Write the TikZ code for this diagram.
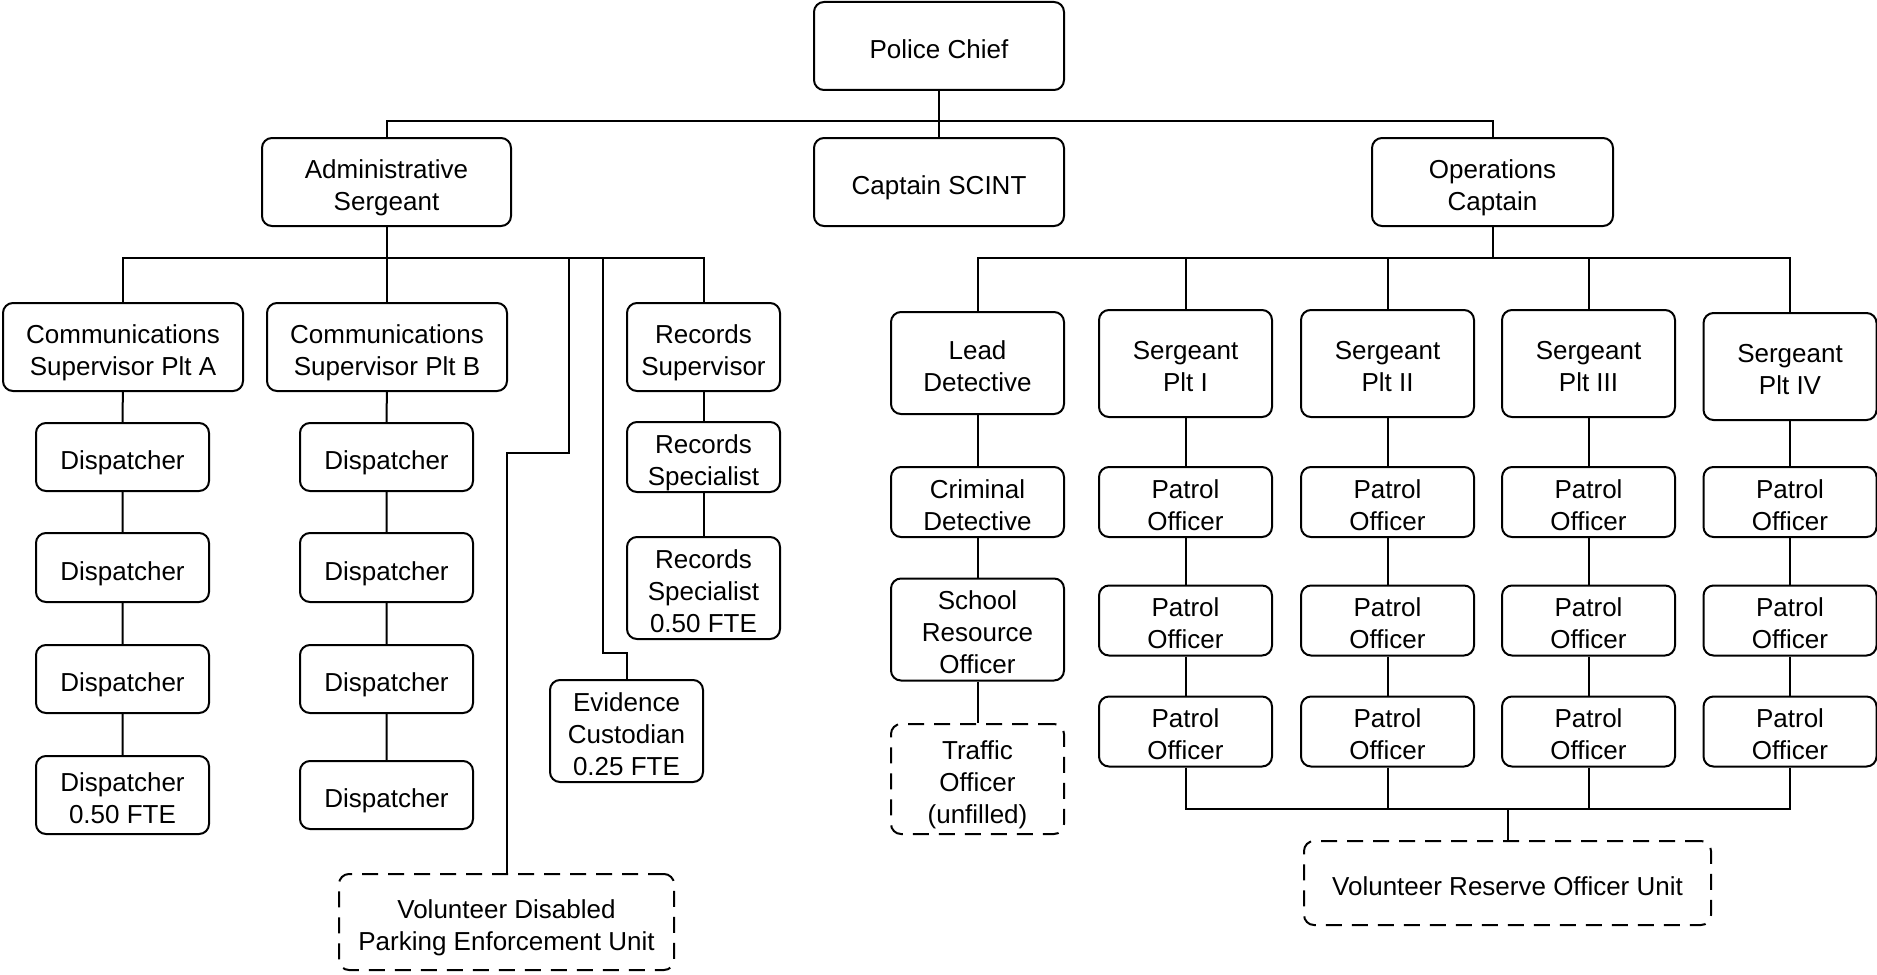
\documentclass[tikz,border=0pt]{standalone}
\usepackage{fontspec}
\setmainfont{Liberation Sans}
\begin{document}
\begin{tikzpicture}[x=0.5pt,y=-0.5pt,
  box/.style={draw, rounded corners=5pt, line width=1pt, align=center, inner sep=0pt,
    font=\fontsize{13}{16}\selectfont,
    execute at begin node={\rule{0pt}{16pt}},
    execute at end node={\rule[-3.5pt]{0pt}{3.5pt}}},
  l2/.style={execute at begin node={\rule{0pt}{31.5pt}}},
  l3/.style={execute at begin node={\rule{0pt}{47.5pt}}},
  dbox/.style={box, dash pattern=on 8pt off 5pt},
  conn/.style={line width=1pt}]
\useasboundingbox (0,0) rectangle (1877,974);
% top level
\node[box, minimum width=125pt, minimum height=44pt] (chief) at (939,46) {Police Chief};
\node[box, l2, minimum width=124.5pt, minimum height=44pt] (admin) at (386.5,182) {Administrative\\Sergeant};
\node[box, minimum width=125pt, minimum height=44pt] (scint) at (939,182) {Captain SCINT};
\node[box, l2, minimum width=120.5pt, minimum height=44pt] (ops) at (1492.5,182) {Operations\\Captain};
% admin branch
\node[box, l2, minimum width=120pt, minimum height=44pt] (commA) at (123,347) {Communications\\Supervisor Plt A};
\node[box, l2, minimum width=120pt, minimum height=44pt] (commB) at (387,347) {Communications\\Supervisor Plt B};
\node[box, l2, minimum width=76.5pt, minimum height=44pt] (recsup) at (703.5,347) {Records\\Supervisor};
\node[box, minimum width=86.5pt, minimum height=34pt] (dA1) at (122.5,457) {Dispatcher};
\node[box, minimum width=86.5pt, minimum height=34.5pt] (dA2) at (122.5,567.5) {Dispatcher};
\node[box, minimum width=86.5pt, minimum height=34pt] (dA3) at (122.5,679) {Dispatcher};
\node[box, l2, minimum width=86.5pt, minimum height=39pt] (dA4) at (122.5,795) {Dispatcher\\0.50 FTE};
\node[box, minimum width=86.5pt, minimum height=34pt] (dB1) at (386.5,457) {Dispatcher};
\node[box, minimum width=86.5pt, minimum height=34.5pt] (dB2) at (386.5,567.5) {Dispatcher};
\node[box, minimum width=86.5pt, minimum height=34pt] (dB3) at (386.5,679) {Dispatcher};
\node[box, minimum width=86.5pt, minimum height=34pt] (dB4) at (386.5,795) {Dispatcher};
\node[box, l2, minimum width=76.5pt, minimum height=34pt] (recspec) at (703.5,457) {Records\\Specialist};
\node[box, l3, minimum width=76.5pt, minimum height=50pt] (recspec2) at (703.5,588) {Records\\Specialist\\0.50 FTE};
\node[box, l3, minimum width=76.5pt, minimum height=50pt] (evid) at (626.5,731) {Evidence\\Custodian\\0.25 FTE};
\node[dbox, l2, minimum width=167.5pt, minimum height=48pt] (voldis) at (506.5,922) {Volunteer Disabled\\Parking Enforcement Unit};
% ops branch
\node[box, l2, minimum width=86.5pt, minimum height=51pt] (lead) at (977.5,363) {Lead\\Detective};
\node[box, l2, minimum width=86.5pt, minimum height=34pt] (crim) at (977.5,502) {Criminal\\Detective};
\node[box, l3, minimum width=86.5pt, minimum height=50.5pt] (school) at (977.5,629.5) {School\\Resource\\Officer};
\node[dbox, l3, minimum width=86.5pt, minimum height=55pt] (traffic) at (977.5,779) {Traffic\\Officer\\(unfilled)};
\node[box, l2, minimum width=86.5pt, minimum height=53.5pt] (s1) at (1185.5,363.5) {Sergeant\\Plt I};
\node[box, l2, minimum width=86.5pt, minimum height=53.5pt] (s2) at (1387.5,363.5) {Sergeant\\Plt II};
\node[box, l2, minimum width=86.5pt, minimum height=53.5pt] (s3) at (1588.5,363.5) {Sergeant\\Plt III};
\node[box, l2, minimum width=86.5pt, minimum height=53.5pt] (s4) at (1790,366.5) {Sergeant\\Plt IV};
\foreach \c/\x in {1/1185.5,2/1387.5,3/1588.5,4/1790}{
  \node[box, l2, minimum width=86.5pt, minimum height=34pt] (p\c1) at (\x,502) {Patrol\\Officer};
  \node[box, l2, minimum width=86.5pt, minimum height=33.5pt] (p\c2) at (\x,620.5) {Patrol\\Officer};
  \node[box, l2, minimum width=86.5pt, minimum height=34.5pt] (p\c3) at (\x,731.5) {Patrol\\Officer};
}
\node[dbox, minimum width=203.5pt, minimum height=42pt] (volres) at (1507.5,883) {Volunteer Reserve Officer Unit};
% bars
\coordinate (topbar) at (0,121);
\coordinate (admbar) at (0,258);
\coordinate (pbar) at (0,809);
\draw[conn] (chief.south) -- (scint.north);
\draw[conn] (admin.north) -- (admin.north |- topbar) -- (ops.north |- topbar) -- (ops.north);
% admin connectors
\draw[conn] (admin.south) -- (admin.south |- admbar);
\draw[conn] (commA.north) -- (commA.north |- admbar) -- (recsup.north |- admbar) -- (recsup.north);
\draw[conn] (commB.north) -- (commB.north |- admbar);
\coordinate (vd1) at (569,258);
\coordinate (vd2) at (569,453);
\draw[conn] (vd1) -- (vd2) -| (voldis.north);
\coordinate (ev1) at (603,258);
\coordinate (ev2) at (603,653);
\draw[conn] (ev1) -- (ev2) -| (evid.north);
\draw[conn] (commA) -- (dA1) -- (dA2) -- (dA3) -- (dA4);
\draw[conn] (commB) -- (dB1) -- (dB2) -- (dB3) -- (dB4);
\draw[conn] (recsup) -- (recspec) -- (recspec2);
% ops connectors
\draw[conn] (ops.south) -- (ops.south |- admbar);
\draw[conn] (lead.north) -- (lead.north |- admbar) -- (s4.north |- admbar) -- (s4.north);
\foreach \c in {1,2,3}{\draw[conn] (s\c.north) -- (s\c.north |- admbar);}
\draw[conn] (lead) -- (crim) -- (school) -- (traffic);
\foreach \c in {1,2,3,4}{\draw[conn] (s\c) -- (p\c1) -- (p\c2) -- (p\c3);}
\draw[conn] (p13.south) -- (p13.south |- pbar) -- (p43.south |- pbar) -- (p43.south);
\foreach \c in {2,3}{\draw[conn] (p\c3.south) -- (p\c3.south |- pbar);}
\draw[conn] (volres.north) -- (volres.north |- pbar);
\end{tikzpicture}
\end{document}
